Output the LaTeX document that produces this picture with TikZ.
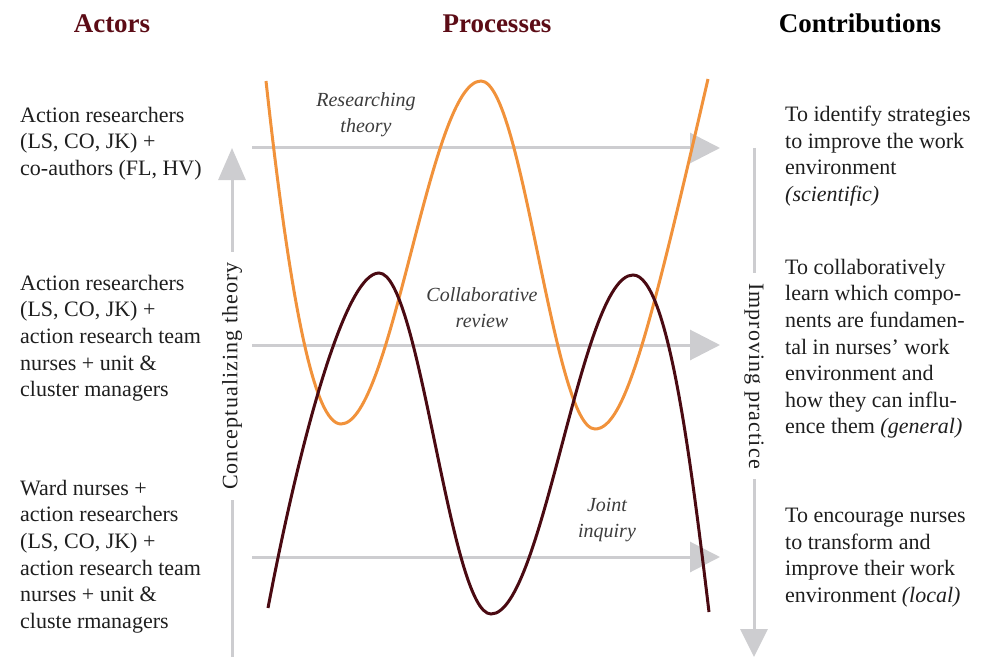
\documentclass[tikz,border=0pt]{standalone}
\usepackage{fontspec}
\setmainfont{Liberation Serif}
\usetikzlibrary{arrows.meta}
\definecolor{headred}{RGB}{92,12,22}
\definecolor{curveorange}{RGB}{241,146,59}
\definecolor{curvedark}{RGB}{74,10,18}
\definecolor{guide}{RGB}{205,205,208}
\definecolor{bodyink}{RGB}{30,30,30}
\definecolor{labelink}{RGB}{60,60,60}

\begin{document}
\begin{tikzpicture}[x=1pt,y=-1pt,
  header/.style={font=\fontsize{27}{32}\selectfont\bfseries, anchor=base, inner sep=0pt},
  body/.style={font=\fontsize{22}{26.6}\selectfont, text=bodyink, align=left, anchor=north west, inner sep=0pt},
  process/.style={font=\fontsize{20}{26}\selectfont\itshape, text=labelink, align=center, anchor=north, inner sep=0pt},
  guideline/.style={draw=guide, line width=3pt},
  flow/.style={guideline, -{Triangle[length=30pt,width=30pt]}},
  axislabel/.style={font=\fontsize{22}{26}\selectfont\addfontfeatures{LetterSpace=5}, text=bodyink, fill=white, inner xsep=10pt, inner ysep=2pt},
  wave/.style={line width=3pt},
]
\useasboundingbox (0,0) rectangle (1001,658);

% column headers
\node[header, text=headred] (hActors) at (112,33) {Actors};
\node[header, text=headred] (hProc) at (497,33) {Processes};
\node[header, text=black] (hContr) at (860,33) {Contributions};

% actors
\node[body] (a1) at (20,103.4) {\strut Action researchers\\(LS, CO, JK) +\\co-authors (FL, HV)};
\node[body] (a2) at (20,271.4) {\strut Action researchers\\(LS, CO, JK) +\\action research team\\nurses + unit \&\\cluster managers};
\node[body] (a3) at (20,476.4) {\strut Ward nurses +\\action researchers\\(LS, CO, JK) +\\action research team\\nurses + unit \&\\cluste rmanagers};

% contributions
\node[body] (c1) at (785,102.9) {\strut To identify strategies\\to improve the work\\environment\\\textit{(scientific)}};
\node[body] (c2) at (785,255.4) {\strut To collaboratively\\learn which compo-\\nents are fundamen-\\tal in nurses’ work\\environment and\\how they can influ-\\ence them \textit{(general)}};
\node[body] (c3) at (785,503.9) {\strut To encourage nurses\\to transform and\\improve their work\\environment \textit{(local)}};

% horizontal process arrows
\coordinate (r1s) at (252,148); \coordinate (r1e) at (720,148);
\coordinate (r2s) at (252,345); \coordinate (r2e) at (720,345);
\coordinate (r3s) at (252,557); \coordinate (r3e) at (720,557);
\draw[flow] (r1s) -- (r1e);
\draw[flow] (r2s) -- (r2e);
\draw[flow] (r3s) -- (r3e);

% vertical axes
\coordinate (thBot) at (232,657); \coordinate (thTop) at (232,148);
\draw[guideline, -{Triangle[length=32pt,width=27pt]}] (thBot) -- (thTop);
\node[axislabel, rotate=90] (thLabel) at (232,376) {Conceptualizing theory};

\coordinate (prTop) at (754,148); \coordinate (prBot) at (754,657);
\draw[guideline, -{Triangle[length=28pt,width=27pt]}] (prTop) -- (prBot);
\node[axislabel, rotate=-90] (prLabel) at (754,376) {Improving practice};

% process labels
\node[process] (p1) at (366,88.5) {\strut Researching\\theory};
\node[process] (p2) at (482,283.5) {\strut Collaborative\\review};
\node[process] (p3) at (607,492.8) {\strut Joint\\inquiry};

% waves
\draw[wave, draw=curveorange]
  (266,81) .. controls (291,310) and (315,424) .. (341,424)
  .. controls (392,424) and (430,81) .. (481,81)
  .. controls (522.5,81) and (553.5,429) .. (595,429)
  .. controls (625,429) and (650,330) .. (708,79);
\draw[wave, draw=curvedark]
  (268,608) .. controls (300,440) and (345,273) .. (379,273)
  .. controls (420,273) and (450,614) .. (491,614)
  .. controls (543,614) and (581,275) .. (633,275)
  .. controls (668,275) and (691,462) .. (709,612);
\end{tikzpicture}
\end{document}
